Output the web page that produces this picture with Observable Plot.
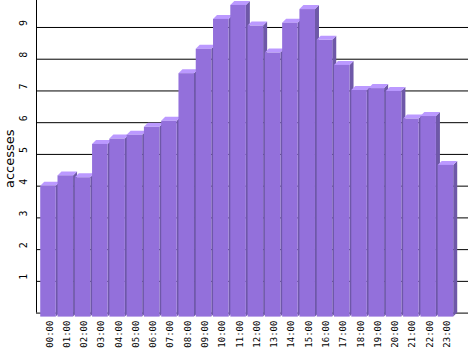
<!DOCTYPE html>
<html><head><meta charset="utf-8">
<script src="https://cdn.jsdelivr.net/npm/d3@7"></script>
<script src="https://cdn.jsdelivr.net/npm/@observablehq/plot@0.6"></script>
<style>html,body{margin:0;padding:0;background:#fff} svg{display:block}</style>
</head><body><div id="chart"></div>
<script>
// ---- data ----
const hours = ["00:00","01:00","02:00","03:00","04:00","05:00","06:00","07:00","08:00","09:00","10:00","11:00",
               "12:00","13:00","14:00","15:00","16:00","17:00","18:00","19:00","20:00","21:00","22:00","23:00"];
const accesses = [4.12,4.45,4.39,5.44,5.61,5.73,5.98,6.17,7.67,8.44,9.38,9.82,
                  9.17,8.32,9.26,9.69,8.72,7.93,7.14,7.20,7.11,6.24,6.32,4.78];
const yTickValues = [1,2,3,4,5,6,7,8,9];
const gridValues = [0,1,2,3,4,5,6,7,8,9];
const yLabel = ["accesses"];

// ---- layout ----
const W = 468, H = 351, ML = 36, MR = 0, MT = 0, MB = 38.4;
const xDomain = [-0.926, 24.074];
const yDomain = [0, 9.85];
const pxX = (W - ML - MR) / (xDomain[1] - xDomain[0]);
const pxY = (H - MT - MB) / (yDomain[1] - yDomain[0]);
const DEPTH = 4;
const ex = DEPTH / pxX, ey = DEPTH / pxY;
const half = 0.45;

const bars = hours.map((h, i) => ({h, i, v: accesses[i]}));
const topPts = bars.flatMap(b => [
  {bar: b.i, y: b.v - ey, x1: b.i - half - ex, x2: b.i + half - ex},
  {bar: b.i, y: b.v, x1: b.i - half, x2: b.i + half}
]);
const sidePts = bars.flatMap(b => [
  {bar: b.i, x: b.i + half - ex, y1: -ey, y2: b.v - ey},
  {bar: b.i, x: b.i + half, y1: 0, y2: b.v}
]);

const FRONT = "#9370DB", TOP = "#BB99FF", SIDE = "#6E58A8";
const mono = "DejaVu Sans Mono";

const chart = Plot.plot({
  width: W, height: H,
  marginLeft: ML, marginRight: MR, marginTop: MT, marginBottom: MB,
  style: {background: "#fff", overflow: "visible"},
  x: {type: "linear", domain: xDomain, axis: null},
  y: {domain: yDomain, axis: null},
  marks: [
    Plot.ruleY(gridValues, {stroke: "#000", strokeWidth: 1}),
    Plot.ruleX([xDomain[0]], {stroke: "#000", strokeWidth: 1}),
    Plot.areaY(sidePts, {x: "x", y1: "y1", y2: "y2", z: "bar", fill: SIDE}),
    Plot.areaX(topPts, {y: "y", x1: "x1", x2: "x2", z: "bar", fill: TOP}),
    Plot.rect(bars, {x1: d => d.i - half, x2: d => d.i + half, y1: 0, y2: "v", dx: -DEPTH, dy: DEPTH, fill: FRONT}),
    Plot.text(hours, {x: (d, i) => i, frameAnchor: "bottom", rotate: -90, textAnchor: "end",
                      dy: 7.5, fontFamily: mono, fontSize: 9, fill: "#000"}),
    Plot.text(yTickValues, {y: d => d, frameAnchor: "left", rotate: -90, textAnchor: "start",
                            dx: -13, dy: -1.5, fontFamily: mono, fontSize: 10, fill: "#000"}),
    Plot.text(yLabel, {frameAnchor: "left", rotate: -90, textAnchor: "middle", dx: -27, dy: 2,
                       fontFamily: "DejaVu Sans", fontSize: 13, fill: "#000"})
  ]
});
document.getElementById("chart").appendChild(chart);
</script>
</body></html>
